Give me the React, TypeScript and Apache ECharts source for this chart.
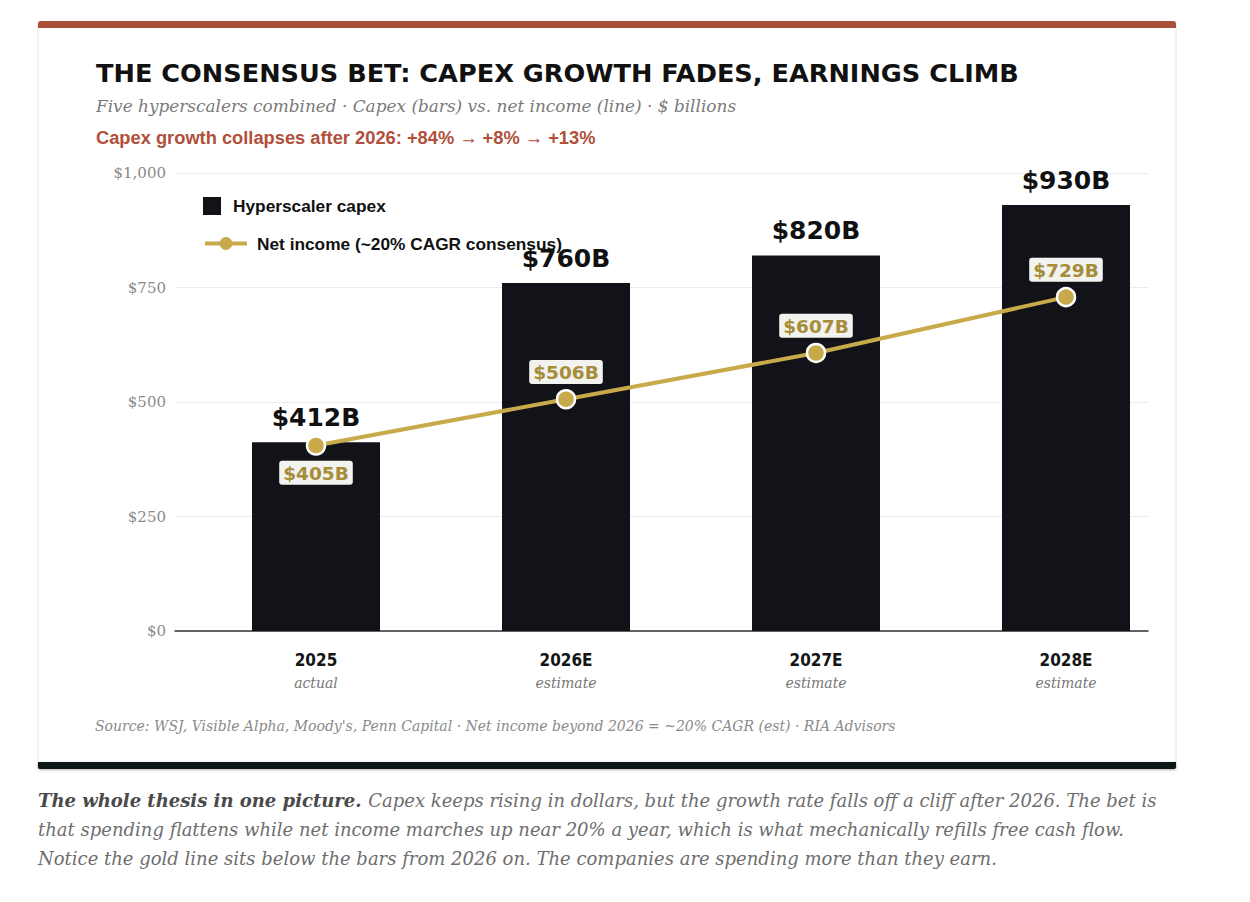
import React, { useEffect, useRef } from "react";
import * as echarts from "echarts";

const years = ["2025", "2026E", "2027E", "2028E"];
const yearNotes = ["actual", "estimate", "estimate", "estimate"];
const capex = [412, 760, 820, 930];
const netIncome = [405, 506, 607, 729];
const yTicks = [0, 250, 500, 750, 1000];

const SERIF = "'DejaVu Serif', 'Liberation Serif', serif";
const SANS = "'Liberation Sans', Arial, sans-serif";
const WIDE = "'DejaVu Sans', 'Liberation Sans', sans-serif";
const GOLD = "#c9aa4b";
const GOLD_TEXT = "#a58d3a";
const INK = "#111318";

export default function App() {
  const ref = useRef<HTMLDivElement>(null);
  useEffect(() => {
    if (!ref.current) return;
    const chart = echarts.init(ref.current, undefined, { renderer: "svg" });
    const top = 173;
    const bottom = 902 - 631;
    const cap = 18;
    chart.setOption({
      animation: false,
      backgroundColor: "#ffffff",
      graphic: [
        { type: "rect", z: -10, shape: { x: 38, y: 22, width: 1138, height: 746 }, style: { fill: "#fff", stroke: "#e6e6e6", lineWidth: 1 } },
        { type: "rect", z: -9, shape: { x: 38, y: 21, width: 1138, height: 7, r: [3, 3, 0, 0] }, style: { fill: "#a94f3a" } },
        { type: "rect", z: -9, shape: { x: 38, y: 762, width: 1138, height: 7, r: [0, 0, 2, 2] }, style: { fill: INK, shadowBlur: 3, shadowColor: "rgba(0,0,0,0.3)", shadowOffsetY: 1 } },
        { type: "text", x: 96, y: 73, style: { text: "THE CONSENSUS BET: CAPEX GROWTH FADES, EARNINGS CLIMB", fontFamily: WIDE, fontWeight: "bold", fontSize: 25.6, fill: "#111", verticalAlign: "middle" } },
        { type: "text", x: 96, y: 106, style: { text: "Five hyperscalers combined · Capex (bars) vs. net income (line) · $ billions", fontFamily: SERIF, fontStyle: "italic", fontSize: 16.9, fill: "#7a7a7a", verticalAlign: "middle" } },
        { type: "text", x: 96, y: 137, style: { text: "Capex growth collapses after 2026: +84% → +8% → +13%", fontFamily: SANS, fontWeight: "bold", fontSize: 18.3, fill: "#b0503b", verticalAlign: "middle" } },
        { type: "text", x: 95, y: 726, style: { text: "Source: WSJ, Visible Alpha, Moody's, Penn Capital · Net income beyond 2026 = ~20% CAGR (est) · RIA Advisors", fontFamily: SERIF, fontStyle: "italic", fontSize: 14, fill: "#8a8a8a", verticalAlign: "middle" } },
        {
          type: "text", x: 38, y: 800,
          style: {
            text: "{b|The whole thesis in one picture.}  {n|Capex keeps rising in dollars, but the growth rate falls off a cliff after 2026. The bet is}",
            verticalAlign: "middle",
            rich: {
              b: { fontFamily: SERIF, fontStyle: "italic", fontWeight: "bold", fontSize: cap, fill: "#4a4a4a" },
              n: { fontFamily: SERIF, fontStyle: "italic", fontSize: cap, fill: "#6e6e6e" },
            },
          },
        },
        { type: "text", x: 38, y: 829, style: { text: "that spending flattens while net income marches up near 20% a year, which is what mechanically refills free cash flow.", fontFamily: SERIF, fontStyle: "italic", fontSize: cap, fill: "#6e6e6e", verticalAlign: "middle" } },
        { type: "text", x: 38, y: 858, style: { text: "Notice the gold line sits below the bars from 2026 on. The companies are spending more than they earn.", fontFamily: SERIF, fontStyle: "italic", fontSize: cap, fill: "#6e6e6e", verticalAlign: "middle" } },
      ],
      legend: [
        {
          left: 203, top: 197, padding: 0, itemWidth: 18, itemHeight: 18, orient: "vertical",
          data: [{ name: "Hyperscaler capex", icon: "rect" }],
          textStyle: { fontFamily: SANS, fontWeight: "bold", fontSize: 17.3, color: "#111", padding: [0, 0, 0, 7] },
        },
        {
          left: 203, top: 235, padding: 0, itemWidth: 42, itemHeight: 16, orient: "vertical",
          data: [{ name: "Net income (~20% CAGR consensus)" }],
          itemStyle: { borderWidth: 0 },
          lineStyle: { width: 4 },
          textStyle: { fontFamily: SANS, fontWeight: "bold", fontSize: 17.3, color: "#111", padding: [0, 0, 0, 5] },
        },
      ],
      grid: [
        { left: 191, right: 1250 - 1191, top, bottom },
        { left: 175, right: 1250 - 1148, top, bottom },
      ],
      xAxis: [
        {
          type: "category", gridIndex: 0, data: years,
          axisLine: { show: false }, axisTick: { show: false },
          axisLabel: {
            margin: 17,
            formatter: (v: string) => {
              const i = years.indexOf(v);
              return `{a|${v}}\n{b|${yearNotes[i]}}`;
            },
            rich: {
              a: { fontFamily: "'DejaVu Sans Condensed', " + SANS, fontWeight: "bold", fontSize: 17, color: "#151515", lineHeight: 24 },
              b: { fontFamily: SERIF, fontStyle: "italic", fontSize: 14, color: "#777", lineHeight: 22 },
            },
          },
        },
        {
          type: "value", gridIndex: 1, min: 0, max: 1,
          axisLine: { show: true, onZero: false, lineStyle: { color: "#333", width: 1.5 } },
          axisTick: { show: false }, axisLabel: { show: false }, splitLine: { show: false },
        },
      ],
      yAxis: [
        { type: "value", gridIndex: 0, min: 0, max: 1000, interval: 250, show: false, splitLine: { show: false } },
        {
          type: "value", gridIndex: 1, min: yTicks[0], max: yTicks[yTicks.length - 1], interval: 250,
          axisLine: { show: false }, axisTick: { show: false },
          axisLabel: { margin: 9, fontFamily: SERIF, fontSize: 15, color: "#8a8a8a", formatter: (v: number) => "$" + v.toLocaleString("en-US") },
          splitLine: { lineStyle: { color: "#ececec", width: 1 } },
        },
      ],
      series: [
        {
          name: "Hyperscaler capex", type: "bar", xAxisIndex: 0, yAxisIndex: 0,
          data: capex, barWidth: 128, itemStyle: { color: INK },
          label: { show: true, position: "top", distance: 12, formatter: (p: any) => `$${p.value}B`, fontFamily: WIDE, fontWeight: "bold", fontSize: 25, color: "#111" },
          z: 2,
        },
        {
          name: "Net income (~20% CAGR consensus)", type: "line", xAxisIndex: 0, yAxisIndex: 0,
          data: netIncome.map((v, i) => ({
            value: v,
            label: { position: i === 0 ? "bottom" : "top" },
          })),
          symbol: "circle", symbolSize: 18,
          lineStyle: { color: GOLD, width: 4 },
          itemStyle: { color: GOLD, borderColor: "#fff", borderWidth: 2.5 },
          label: {
            show: true, distance: 5, formatter: (p: any) => `$${p.value}B`,
            fontFamily: WIDE, fontWeight: "bold", fontSize: 18.5, color: GOLD_TEXT,
            backgroundColor: "#f2f2ef", borderRadius: 3, padding: [3, 4, 2, 4],
            shadowColor: "rgba(0,0,0,0.15)", shadowBlur: 2,
          },
          z: 5,
        },
      ],
    });
    return () => chart.dispose();
  }, []);
  return <div ref={ref} style={{ position: "absolute", left: 0, top: 0, width: 1250, height: 902 }} />;
}
